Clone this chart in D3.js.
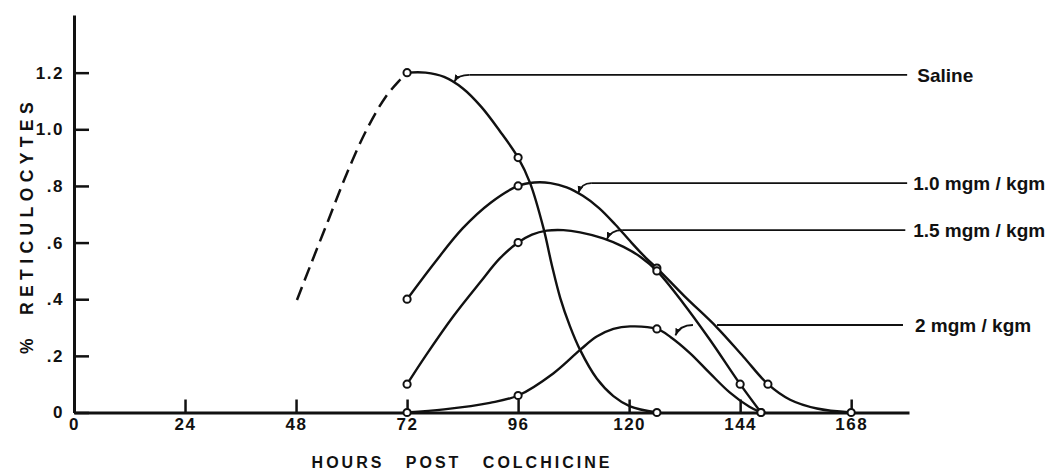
<!DOCTYPE html>
<html>
<head>
<meta charset="utf-8">
<script src="https://cdn.jsdelivr.net/npm/d3@7"></script>
<style>
  body { margin: 0; background: #fff; }
  svg text { font-family: "Liberation Sans", Arial, sans-serif; font-weight: bold; fill: #111; }
</style>
</head>
<body>
<div id="chart"></div>
<script>
// Axis ticks
const xTicks = [0, 24, 48, 72, 96, 120, 144, 168];
const yTicks = [0, 0.2, 0.4, 0.6, 0.8, 1.0, 1.2];
const yTickLabels = ["0", ".2", ".4", ".6", ".8", "1.0", "1.2"];

const seriesNames = ["Saline", "1.0 mgm / kgm", "1.5 mgm / kgm", "2 mgm / kgm"];

// Measured points [hours, % reticulocytes]
const salinePoints = [[72, 1.2], [96, 0.9], [126, 0]];
const dose10Points = [[72, 0.4], [96, 0.8], [126, 0.51], [150, 0.1], [168, 0]];
const dose15Points = [[72, 0.1], [96, 0.6], [126, 0.5], [144, 0.1], [148.5, 0]];
const dose20Points = [[72, 0], [96, 0.06], [126, 0.295], [148.5, 0]];

// Curves
const salineDashed = [[48.2, 0.397], [51, 0.515], [55, 0.68], [59, 0.845], [63.3, 1.0], [67.4, 1.115], [70.5, 1.175], [72, 1.2]];
const salineCurve = [[72, 1.2], [76, 1.2], [80, 1.185], [84, 1.145], [88, 1.08], [92, 0.995], [96, 0.9],
    [98.6, 0.81], [101.5, 0.65], [103.3, 0.52], [105.1, 0.405], [107.2, 0.305], [109.4, 0.221], [113, 0.12],
    [116.6, 0.058], [120.2, 0.022], [126, 0]];
const dose10Curve = [[72, 0.4], [78, 0.53], [84, 0.65], [90, 0.74], [96, 0.8], [99.5, 0.812], [103, 0.81], [106.5, 0.795],
    [110, 0.765], [113.5, 0.722], [117, 0.664], [120.5, 0.6], [123.5, 0.548], [126, 0.51], [132, 0.41], [139, 0.3],
    [144.7, 0.197], [150, 0.1], [154.8, 0.045], [160.6, 0.014], [168, 0]];
const dose15Curve = [[72, 0.1], [76, 0.2], [82, 0.34], [87.8, 0.46], [92.1, 0.545], [96, 0.6], [99, 0.628], [102.2, 0.642],
    [105.8, 0.644], [109.4, 0.636], [114.4, 0.615], [118.8, 0.585], [122.4, 0.55], [126, 0.5], [131.7, 0.386],
    [137.5, 0.256], [144, 0.1], [148.5, 0]];
const dose20Curve = [[72, 0], [80, 0.011], [89.9, 0.034], [96, 0.06], [103.6, 0.138], [109.4, 0.221], [113, 0.268],
    [116.6, 0.295], [120.2, 0.304], [126, 0.295], [129, 0.266], [133.2, 0.209], [137.5, 0.138], [141.8, 0.07],
    [146, 0.02], [148.5, 0]];

// Leader lines: arrow tip, bend, line level, line start/end, label position (data units)
const leaderTip = [[82.2, 1.168], [109, 0.775], [115.2, 0.612], [130, 0.272]];
const leaderBend = [85.5, 111.8, 118.5, 133.8];
const leaderLevel = [1.192, 0.81, 0.644, 0.309];
const leaderStart = [85.5, 111.8, 118.5, 139];
const leaderEnd = [180.1, 180.1, 179.7, 179.2];
const labelX = [182.3, 181.4, 181.4, 181.8];

let width = 1047,
    height = 471;

const svg = d3.select("#chart")
    .append("svg")
    .attr("width", width)
    .attr("height", height);

svg.append("rect").attr("width", width).attr("height", height).attr("fill", "#fff");

const x = d3.scaleLinear().domain([0, 180.5]).range([74, 909]);
const y = d3.scaleLinear().domain([0, 1.4036]).range([412.5, 15]);

// Axes
const xAxis = svg.append("g")
    .attr("transform", `translate(0,${y(0)})`)
    .call(d3.axisBottom(x).tickValues(xTicks).tickSizeInner(-13).tickSizeOuter(0).tickPadding(5))
    .attr("font-size", null).attr("font-family", null);

const yAxis = svg.append("g")
    .attr("transform", `translate(${x(0)},0)`)
    .call(d3.axisLeft(y).tickValues(yTicks).tickFormat((d, i) => yTickLabels[i])
        .tickSizeInner(-15).tickSizeOuter(0).tickPadding(10))
    .attr("font-size", null).attr("font-family", null);

[xAxis, yAxis].forEach(g => {
    g.select(".domain").attr("stroke", "#111").attr("stroke-width", 3);
    g.selectAll(".tick line").attr("stroke", "#111").attr("stroke-width", 2.5);
    g.selectAll(".tick text").style("font-size", "17px").style("letter-spacing", "1.5px");
});

// Axis titles
svg.append("text")
    .attr("x", 462)
    .attr("y", 468)
    .attr("text-anchor", "middle")
    .style("font-size", "16px")
    .style("letter-spacing", "3px")
    .style("word-spacing", "14px")
    .text("HOURS POST COLCHICINE");

const yTitle = svg.append("text")
    .attr("transform", "translate(33,354) rotate(-90)")
    .style("font-size", "17.5px");
yTitle.append("tspan").attr("x", 0).text("%");
yTitle.append("tspan").attr("x", 39).style("letter-spacing", "5.4px").text("RETICULOCYTES");

// Curves
const line = d3.line()
    .x(d => x(d[0]))
    .y(d => y(d[1]))
    .curve(d3.curveCatmullRom.alpha(0.5));

svg.append("path")
    .datum(salineDashed)
    .attr("fill", "none")
    .attr("stroke", "#111")
    .attr("stroke-width", 2.5)
    .attr("stroke-dasharray", "14,7")
    .attr("d", line);

[salineCurve, dose10Curve, dose15Curve, dose20Curve].forEach(curve => {
    svg.append("path")
        .datum(curve)
        .attr("fill", "none")
        .attr("stroke", "#111")
        .attr("stroke-width", 2.4)
        .attr("d", line);
});

// Point markers
[salinePoints, dose10Points, dose15Points, dose20Points].forEach(points => {
    svg.selectAll(null)
        .data(points)
        .enter()
        .append("circle")
        .attr("cx", d => x(d[0]))
        .attr("cy", d => y(d[1]))
        .attr("r", 3.6)
        .attr("fill", "#fff")
        .attr("stroke", "#111")
        .attr("stroke-width", 2);
});

// Arrowhead for leader lines
svg.append("defs").append("marker")
    .attr("id", "arrow")
    .attr("viewBox", "0 0 10 10")
    .attr("refX", 10)
    .attr("refY", 5)
    .attr("markerUnits", "userSpaceOnUse")
    .attr("markerWidth", 7)
    .attr("markerHeight", 7)
    .attr("orient", "auto-start-reverse")
    .append("path")
    .attr("d", "M0,1 L10,5 L0,9 z")
    .attr("fill", "#111");

// Leader lines and labels
seriesNames.forEach((name, i) => {
    const tx = x(leaderTip[i][0]), ty = y(leaderTip[i][1]);
    const bx = x(leaderBend[i]), ly = y(leaderLevel[i]);
    svg.append("path")
        .attr("d", `M${tx},${ty} Q${tx + (bx - tx) * 0.25},${ly} ${bx},${ly}`)
        .attr("fill", "none")
        .attr("stroke", "#111")
        .attr("stroke-width", 1.8)
        .attr("marker-start", "url(#arrow)");
    svg.append("line")
        .attr("x1", x(leaderStart[i]))
        .attr("x2", x(leaderEnd[i]))
        .attr("y1", ly)
        .attr("y2", ly)
        .attr("stroke", "#111")
        .attr("stroke-width", 1.8);
    svg.append("text")
        .attr("x", x(labelX[i]))
        .attr("y", ly)
        .attr("dy", "0.35em")
        .style("font-size", "19px")
        .text(name);
});
</script>
</body>
</html>
